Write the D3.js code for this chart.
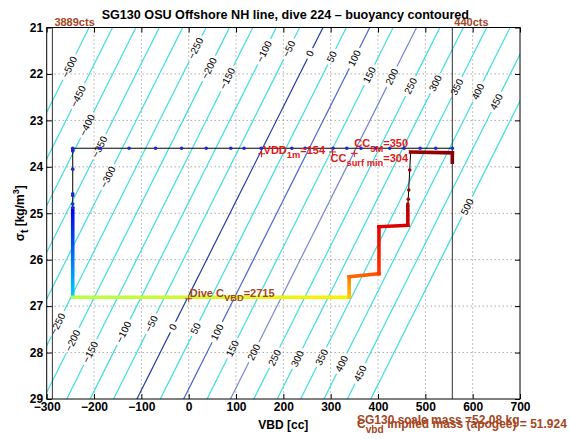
<!DOCTYPE html>
<html><head><meta charset="utf-8">
<script src="https://cdn.jsdelivr.net/npm/d3@7"></script>
<style>
body{margin:0;background:#fff}
svg{display:block}
text{font-family:"Liberation Sans",Arial,Helvetica,sans-serif}
</style>
</head><body><svg id="c" width="570" height="439"></svg>
<script>
// ---------------- data ----------------
const titleText = "SG130 OSU Offshore NH line, dive 224 – buoyancy contoured";
const xTicks = [-300,-200,-100,0,100,200,300,400,500,600,700];
const yTicks = [21,22,23,24,25,26,27,28,29];

// buoyancy contour levels and label positions (sigma of label centre; null = none)
const contourLevels   = [-500,-450,-400,-350,-300,-250,-200,-150,-100,-50,0,50,100,150,200,250,300,350,400,450,500];
const labelSigmaUpper = [21.85,22.48,23.10,23.57,24.22,21.45,21.88,22.10,21.52,21.46,21.56,21.63,21.66,22.02,22.06,22.26,22.20,22.28,22.38,22.60,24.86];
const labelSigmaLower = [null,null,null,null,null,27.38,27.74,27.99,27.56,27.38,27.45,27.48,27.56,27.91,27.99,28.11,28.13,28.10,28.24,28.45,null];
// buoyancy model: neutral VBD at sigma 29 and its change per sigma unit, buoyancy per cc
const neutralVBDat29 = -109.4;
const neutralSlope = -49.15;
const buoyPerCC = 1.012;

// dive track vertices (VBD cc, sigma_t)
const trackVBD   = [557,  -245, -245, -245, 339,  339,  402,  402,  463,  463,  469,  557,  557];
const trackSigma = [23.60,23.60,24.90,26.81,26.81,26.37,26.30,25.29,25.26,24.86,23.68,23.70,23.90];
// per segment: colour time fraction at start / end (null = thin black only)
const segTimeStart = [null,null,0.10,0.55,0.68,0.77,0.82,0.90,0.92,null,0.97,0.99];
const segTimeEnd   = [null,null,0.33,0.64,0.76,0.80,0.90,0.92,0.95,null,0.99,1.00];

// sampled points drawn as dots
const surfDotVBD = [-245,-187,-126,-70,-15,37,89,117,153,218,246,305,334,364,394,425,455,489,522,557];
const surfDotSigma = 23.60;
const descDotSigma = [23.63,23.66,24.05,24.58,24.62,24.80,24.88];
const descDotVBD = -245;
const ascDotSigma = [24.07,24.50,24.70,24.80];
const ascDotVBD = [467,465,464,463];

// pump/counts reference lines
const countLines = [{vbd:-288, label:"3889cts"},{vbd:557, label:"440cts"}];

// annotation markers
const marks = [
  {vbd:154, sigma:23.72, color:"#e01818", parts:[["VDD"],["1m",1],["=154"]], dx:2, dy:0},
  {vbd:350, sigma:23.71, color:"#e01818", parts:[["CC"],["5M",1],["=350"]], dx:0, dy:-6},
  {vbd:304, sigma:23.68, color:"#e01818", parts:[["CC"],["surf min",1],["=304"]], dx:-2, dy:10},
  {vbd:0,   sigma:26.84, color:"#a5461e", parts:[["Dive C"],["VBD",1],["=2715"]], dx:1, dy:-2}
];
const massText1 = "SG130 scale mass =52.08 kg";
const massText2 = [["C"],["vbd",1],[" implied mass (apogee) = 51.924"]];

// ---------------- drawing ----------------
const svg = d3.select("#c");
const L = 46.7, R = 520, T = 27.5, B = 399;
const x = d3.scaleLinear().domain([-300,700]).range([L,R]);
const y = d3.scaleLinear().domain([21,29]).range([T,B]);
const jet = d3.scaleLinear().domain([0,0.125,0.375,0.625,0.875,1])
  .range(["#000090","#0000ff","#00ffff","#ffff00","#ff0000","#800000"]);
const brown = "#a5461e";

const defs = svg.append("defs");
defs.append("clipPath").attr("id","plotclip")
  .append("rect").attr("x",L).attr("y",T).attr("width",R-L).attr("height",B-T);

// grid
const grid = svg.append("g").attr("stroke","#666").attr("stroke-width",0.8).attr("stroke-dasharray","1,3");
xTicks.slice(1,-1).forEach(v=>grid.append("line").attr("x1",x(v)).attr("x2",x(v)).attr("y1",T).attr("y2",B));
yTicks.slice(1,-1).forEach(v=>grid.append("line").attr("y1",y(v)).attr("y2",y(v)).attr("x1",L).attr("x2",R));

// contours
const neutral = s => neutralVBDat29 + neutralSlope*(s-29);
const contourVBD = (lev,s) => neutral(s) + lev/buoyPerCC;
const cg = svg.append("g").attr("clip-path","url(#plotclip)");
const lg = svg.append("g");
const contourColor = lev => lev===0 ? "#1f3c9e" : lev===100 ? "#4766cc" : lev===200 ? "#7688d2" : "#3fdede";
const pxPerSigma = Math.hypot(y(1)-y(0), x(0)-x(-neutralSlope));
const angle = Math.atan2(y(22)-y(21), x(contourVBD(0,22))-x(contourVBD(0,21)))*180/Math.PI;
contourLevels.forEach((lev,i)=>{
  const gaps=[];
  [labelSigmaUpper[i],labelSigmaLower[i]].forEach(s=>{
    if(s==null) return;
    const px=x(contourVBD(lev,s)), py=y(s);
    const t=lg.append("text").attr("transform",`translate(${px},${py}) rotate(${angle+180})`)
      .attr("text-anchor","middle").attr("dy","0.35em").attr("font-size",10).attr("fill","#000")
      .text(lev<0?"\u2212"+Math.abs(lev):String(lev));
    const w=t.node().getComputedTextLength();
    const h=(w/2+3)/pxPerSigma;
    gaps.push([s-h,s+h]);
  });
  gaps.sort((a,b)=>a[0]-b[0]);
  let start=20.5; const segs=[];
  gaps.forEach(g=>{segs.push([start,g[0]]); start=g[1];});
  segs.push([start,29.5]);
  segs.forEach(([a,b])=>{
    cg.append("line").attr("x1",x(contourVBD(lev,a))).attr("y1",y(a))
      .attr("x2",x(contourVBD(lev,b))).attr("y2",y(b))
      .attr("stroke",contourColor(lev)).attr("stroke-width",1.2);
  });
});

// count lines
countLines.forEach(c=>{
  svg.append("line").attr("x1",x(c.vbd)).attr("x2",x(c.vbd)).attr("y1",T).attr("y2",B)
    .attr("stroke","#333").attr("stroke-width",1);
  svg.append("text").attr("x",x(c.vbd)+2).attr("y",T-1.5).attr("font-size",11).attr("font-weight","bold")
    .attr("fill",brown).text(c.label);
});

// track
const tg = svg.append("g").attr("clip-path","url(#plotclip)");
const pts = trackVBD.map((v,i)=>[x(v),y(trackSigma[i])]);
tg.append("path").attr("d",d3.line()(pts)).attr("fill","none").attr("stroke","#000").attr("stroke-width",1);
for(let i=0;i<pts.length-1;i++){
  if(segTimeStart[i]==null) continue;
  const id="g"+i;
  const x2 = pts[i+1][0]===pts[i][0] ? pts[i][0]+0.01 : pts[i+1][0];
  const y2 = pts[i+1][1]===pts[i][1] ? pts[i][1]+0.01 : pts[i+1][1];
  const gr=defs.append("linearGradient").attr("id",id).attr("gradientUnits","userSpaceOnUse")
    .attr("x1",pts[i][0]).attr("y1",pts[i][1]).attr("x2",x2).attr("y2",y2);
  gr.append("stop").attr("offset",0).attr("stop-color",jet(segTimeStart[i]));
  gr.append("stop").attr("offset",1).attr("stop-color",jet(segTimeEnd[i]));
  tg.append("line").attr("x1",pts[i][0]).attr("y1",pts[i][1]).attr("x2",pts[i+1][0]).attr("y2",pts[i+1][1])
    .attr("stroke",`url(#${id})`).attr("stroke-width",3.6).attr("stroke-linecap","square");
}
surfDotVBD.forEach(v=>tg.append("circle").attr("cx",x(v)).attr("cy",y(surfDotSigma)).attr("r",1.8).attr("fill","#1a2ad0"));
descDotSigma.forEach(s=>tg.append("circle").attr("cx",x(descDotVBD)).attr("cy",y(s)).attr("r",1.8).attr("fill","#1a2ad0"));
ascDotSigma.forEach((s,i)=>tg.append("circle").attr("cx",x(ascDotVBD[i])).attr("cy",y(s)).attr("r",1.8).attr("fill","#a00000"));

// rich text helper
function rich(g,px,py,parts,size,color){
  const t=g.append("text").attr("x",px).attr("y",py).attr("font-size",size).attr("font-weight","bold").attr("fill",color);
  let sub=false;
  parts.forEach(p=>{
    const s=t.append("tspan").text(p[0]);
    if(p[1] && !sub){s.attr("dy",4.5).attr("font-size",size*0.85); sub=true;}
    else if(!p[1] && sub){s.attr("dy",-4.5); sub=false;}
    else if(p[1]) s.attr("font-size",size*0.85);
  });
  return t;
}

// markers
marks.forEach(m=>{
  const px=x(m.vbd), py=y(m.sigma);
  svg.append("path").attr("d",`M${px-3.5},${py}H${px+3.5}M${px},${py-3.5}V${py+3.5}`)
    .attr("stroke",m.color).attr("stroke-width",1);
  rich(svg,px+m.dx,py+m.dy,m.parts,11,m.color);
});

// frame + ticks
svg.append("rect").attr("x",L).attr("y",T).attr("width",R-L).attr("height",B-T)
  .attr("fill","none").attr("stroke","#000").attr("stroke-width",1);
const fmt = v => v<0 ? "\u2212"+Math.abs(v) : String(v);
const ax = svg.append("g").attr("transform",`translate(0,${B})`)
  .call(d3.axisBottom(x).tickValues(xTicks).tickSizeInner(-5).tickSizeOuter(0).tickPadding(3).tickFormat(fmt));
const axT = svg.append("g").attr("transform",`translate(0,${T})`)
  .call(d3.axisTop(x).tickValues(xTicks).tickSizeInner(-5).tickSizeOuter(0).tickFormat(""));
const ay = svg.append("g").attr("transform",`translate(${L},0)`)
  .call(d3.axisLeft(y).tickValues(yTicks).tickSizeInner(-5).tickSizeOuter(0).tickPadding(4));
const ayR = svg.append("g").attr("transform",`translate(${R},0)`)
  .call(d3.axisRight(y).tickValues(yTicks).tickSizeInner(-5).tickSizeOuter(0).tickFormat(""));
[ax,axT,ay,ayR].forEach(a=>{a.select(".domain").remove(); a.selectAll(".tick line").attr("stroke","#000");
  a.selectAll("text").attr("font-size",12).attr("font-weight","bold").attr("fill","#000")
   .attr("font-family","\"Liberation Sans\",Arial,sans-serif");});
ay.selectAll("text").attr("x",-3.5);

// titles
svg.append("text").attr("x",(L+R)/2+2).attr("y",19).attr("text-anchor","middle")
  .attr("font-size",12.6).attr("font-weight","bold").text(titleText);
svg.append("text").attr("x",(L+R)/2).attr("y",429).attr("text-anchor","middle")
  .attr("font-size",12).attr("font-weight","bold").text("VBD [cc]");
const yl = svg.append("text").attr("transform",`translate(24,${(T+B)/2}) rotate(-90)`).attr("text-anchor","middle")
  .attr("font-size",12).attr("font-weight","bold");
yl.append("tspan").text("\u03c3");
yl.append("tspan").text("t").attr("dy",4).attr("font-size",10);
yl.append("tspan").text(" [kg/m").attr("dy",-4);
yl.append("tspan").text("3").attr("dy",-5).attr("font-size",9);
yl.append("tspan").text("]").attr("dy",5);

// mass annotations
svg.append("text").attr("x",357).attr("y",424).attr("font-size",12).attr("font-weight","bold")
  .attr("fill",brown).text(massText1);
rich(svg,357,428,massText2,12,brown);
</script></body></html>
